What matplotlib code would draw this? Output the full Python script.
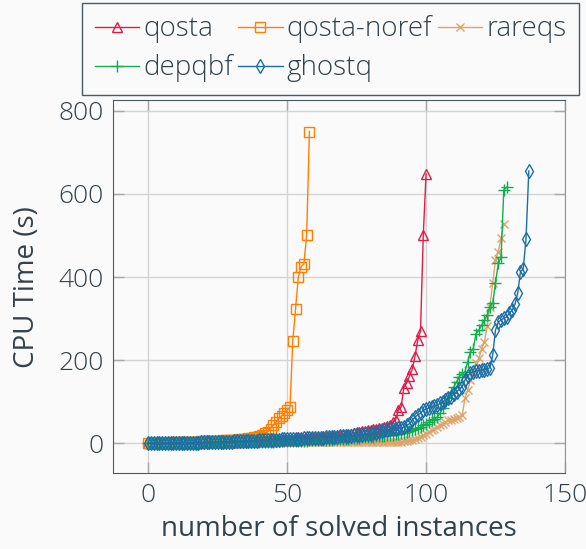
"""
plot.py
cactus plot of CPU time per solved instance for five QBF solvers
"""
import matplotlib.pyplot as plt
import numpy as np

# sorted CPU times (s) of each solver, one value per solved instance
qosta = [0.1, 0.2, 0.3, 0.4, 0.5, 0.6, 0.7, 0.8, 0.9, 1.0,
         1.1, 1.2, 1.3, 1.4, 1.5, 1.6, 1.7, 1.8, 1.9, 2.0,
         2.1, 2.2, 2.3, 2.5, 2.6, 2.8, 3.0, 3.1, 3.3, 3.5,
         3.7, 3.9, 4.1, 4.3, 4.5, 4.7, 4.9, 5.1, 5.3, 5.5,
         5.7, 6.0, 6.2, 6.5, 6.8, 7.0, 7.3, 7.6, 7.9, 8.2,
         8.5, 8.8, 9.1, 9.4, 9.7, 10, 10.4, 10.8, 11.2, 11.6,
         12, 12.5, 13, 13.5, 14, 14.5, 15, 16, 17, 18,
         19, 20, 21, 22, 24, 26, 27, 29, 30, 32,
         33, 34, 35, 36, 38, 40, 42, 45, 51, 55,
         80, 87, 134, 145, 161, 178, 209, 248, 270, 501, 648]

qosta_noref = [0.2, 0.4, 0.6, 0.8, 1.0, 1.2, 1.4, 1.6, 1.8, 2.0,
               2.2, 2.4, 2.6, 2.8, 3.0, 3.3, 3.6, 3.9, 4.2, 4.5,
               4.8, 5.0, 5.2, 5.5, 5.8, 6.0, 6.4, 6.8, 7.2, 7.6,
               8.0, 8.5, 9.0, 9.5, 10, 11, 12, 13, 14, 16,
               18, 21, 24, 28, 35, 43, 51, 60, 66, 72,
               80, 87, 246, 323, 400, 425, 431, 500, 750]

rareqs = [0.0, 0.1, 0.1, 0.1, 0.1, 0.2, 0.2, 0.2, 0.2, 0.3,
          0.3, 0.3, 0.3, 0.4, 0.4, 0.4, 0.5, 0.5, 0.5, 0.6,
          0.6, 0.6, 0.7, 0.7, 0.8, 0.8, 0.9, 0.9, 1.0, 1.0,
          1.1, 1.1, 1.2, 1.2, 1.3, 1.3, 1.4, 1.4, 1.5, 1.5,
          1.6, 1.6, 1.7, 1.7, 1.8, 1.8, 1.9, 1.9, 2.0, 2.0,
          2.1, 2.1, 2.2, 2.2, 2.3, 2.3, 2.4, 2.4, 2.5, 2.5,
          2.6, 2.6, 2.7, 2.7, 2.8, 2.8, 2.9, 2.9, 3.0, 3.0,
          3.1, 3.1, 3.2, 3.2, 3.3, 3.3, 3.4, 3.4, 3.5, 3.5,
          3.5, 3.5, 3.6, 3.6, 3.6, 3.7, 3.7, 3.7, 3.8, 3.8,
          3.8, 4, 4.5, 5, 7, 9, 11, 13, 16, 19,
          23, 27, 31, 35, 39, 43, 47, 51, 55, 57,
          59, 61, 63, 67, 108, 128, 152, 172, 192, 204,
          228, 244, 281, 329, 385, 441, 461, 493, 528]

depqbf = [0.1, 0.2, 0.2, 0.3, 0.3, 0.4, 0.4, 0.5, 0.5, 0.6,
          0.6, 0.7, 0.7, 0.8, 0.8, 0.9, 0.9, 1.0, 1.0, 1.1,
          1.2, 1.3, 1.4, 1.5, 1.6, 1.7, 1.8, 1.9, 2.0, 2.1,
          2.2, 2.3, 2.4, 2.5, 2.6, 2.7, 2.8, 2.9, 3.0, 3.1,
          3.2, 3.4, 3.6, 3.8, 4.0, 4.2, 4.4, 4.6, 4.8, 5.0,
          5.2, 5.4, 5.6, 5.8, 6.0, 6.2, 6.4, 6.6, 6.8, 7.0,
          7.3, 7.6, 7.9, 8.2, 8.5, 8.8, 9.1, 9.4, 9.7, 10,
          10.5, 11, 11.5, 12, 12.5, 13, 13.5, 14, 14.5, 15,
          15.5, 16, 16.5, 17, 17.5, 18, 19, 20, 21, 22,
          23, 24, 25, 27, 29, 31, 34, 36, 39, 43,
          47, 51, 55, 59, 63, 72, 84, 96, 108, 120,
          136, 148, 160, 167, 172, 196, 220, 228, 264, 272,
          284, 296, 308, 329, 337, 385, 433, 447, 610, 616]

ghostq = [0.1, 0.2, 0.3, 0.4, 0.5, 0.6, 0.7, 0.8, 0.9, 1.0,
          1.1, 1.2, 1.3, 1.4, 1.5, 1.6, 1.7, 1.8, 1.9, 2.0,
          2.2, 2.4, 2.6, 2.8, 3.0, 3.2, 3.4, 3.6, 3.8, 4.0,
          4.2, 4.4, 4.6, 4.8, 5.0, 5.3, 5.6, 5.9, 6.2, 6.5,
          6.8, 7.1, 7.4, 7.7, 8.0, 8.3, 8.6, 8.9, 9.2, 9.5,
          9.8, 10.1, 10.4, 10.7, 11, 11.3, 11.6, 11.9, 12.2, 12.5,
          12.8, 13.1, 13.4, 13.7, 14, 14.5, 15, 15.5, 16, 16.5,
          17, 17.5, 18, 18.5, 19, 19.5, 20, 21, 22, 22.5,
          23, 24, 25, 27, 29, 31, 33, 34, 35, 35.5,
          36, 37, 39, 43, 47, 55, 63, 68, 72, 80,
          82, 85, 87, 90, 92, 96, 100, 103, 108, 112,
          118, 124, 130, 136, 152, 162, 170, 172, 174, 175,
          176, 177, 179, 182, 212, 272, 292, 296, 301, 304,
          313, 320, 334, 361, 413, 419, 492, 655]

TEXT = '#33424a'
BG = '#fafafa'

# (label, data, color, marker, marker size)
series = [
    ("qosta", qosta, '#dc1e4a', '^', 7),
    ("qosta-noref", qosta_noref, '#ff8000', 's', 7),
    ("rareqs", rareqs, '#dda46c', 'x', 6),
    ("depqbf", depqbf, '#11ad4f', '+', 8),
    ("ghostq", ghostq, '#1c6fa6', 'd', 7),
]

plt.rcParams['font.family'] = ['Open Sans', 'DejaVu Sans']
plt.rcParams['font.weight'] = 'light'
plt.rcParams['font.size'] = 20

fig = plt.figure(figsize=(5.86, 5.49), dpi=100, facecolor=BG)
ax = fig.add_axes([0.193, 0.138, 0.771, 0.680], facecolor=BG)

handles = {}
for label, values, color, marker, ms in series:
    x = np.arange(len(values))
    line, = ax.plot(x, values, color=color, lw=1.0, marker=marker, ms=ms,
                    mfc='none', mec=color, mew=1.0, label=label)
    handles[label] = line

ax.set_xlim(-12.7, 150)
ax.set_ylim(-72, 826)
ax.set_xticks([0, 50, 100, 150])
ax.set_yticks([0, 200, 400, 600, 800])
ax.grid(True, color='#d4d4d4', lw=1.0)
ax.set_axisbelow(True)
ax.tick_params(direction='in', length=8, width=1, color='#a8a8a8',
               top=True, right=True, labelcolor=TEXT, pad=7, labelsize=19)
for side in ['left', 'bottom', 'top']:
    ax.spines[side].set_color('#4b5a62')
ax.spines['right'].set_color('#8c9296')

ax.set_xlabel("number of solved instances", color=TEXT, labelpad=5)
ax.set_ylabel("CPU Time (s)", color=TEXT, labelpad=12)

# row-major legend order for 3 columns
order = ["qosta", "depqbf", "qosta-noref", "ghostq", "rareqs"]
leg = fig.legend([handles[k] for k in order], order, ncol=3, loc='upper left',
                 bbox_to_anchor=(0.14, 0.995), numpoints=1, handlelength=1.6,
                 handletextpad=0.15, columnspacing=0.2, labelspacing=0.4,
                 borderpad=0.45, fancybox=False, framealpha=1, facecolor=BG,
                 edgecolor='#4b5a62', borderaxespad=0)
for t in leg.get_texts():
    t.set_color(TEXT)

plt.savefig("out.png", dpi=100, facecolor=BG)
